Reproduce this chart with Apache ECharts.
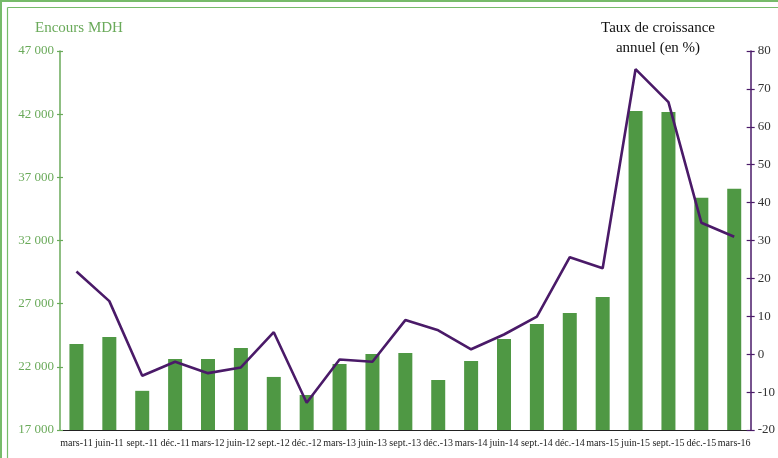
<!DOCTYPE html>
<html>
<head>
<meta charset="utf-8">
<script src="https://cdn.jsdelivr.net/npm/echarts@6/dist/echarts.min.js"></script>
<style>
  html, body { margin: 0; padding: 0; background: #fff; }
  #chart { width: 778px; height: 458px; }
</style>
</head>
<body>
<div id="chart"></div>
<script>
// trimestres
var categories = ["mars-11", "juin-11", "sept.-11", "déc.-11", "mars-12", "juin-12", "sept.-12", "déc.-12",
	"mars-13", "juin-13", "sept.-13", "déc.-13", "mars-14", "juin-14", "sept.-14", "déc.-14",
	"mars-15", "juin-15", "sept.-15", "déc.-15", "mars-16"];

// encours en MDH (barres)
var encours = [23800, 24360, 20100, 22620, 22620, 23490, 21200, 19770,
	22230, 23020, 23100, 20960, 22460, 24200, 25390, 26260,
	27530, 42260, 42180, 35390, 36100];

// taux de croissance annuel en % (courbe)
var croissance = [21.8, 14.0, -5.7, -2.0, -5.0, -3.5, 5.8, -12.8,
	-1.4, -2.0, 9.0, 6.3, 1.3, 5.2, 9.9, 25.6,
	22.7, 75.2, 66.5, 34.7, 31.0];

var green = "#4f9844";
var greenAxis = "#6aaa5a";
var purple = "#4a1a68";
var serif = "'Liberation Serif', 'DejaVu Serif', serif";

var chart = echarts.init(document.getElementById("chart"));

function milliers(v) {
	var s = String(v);
	return s.replace(/\B(?=(\d{3})+(?!\d))/g, " ");
}

var grid = { left: 60, right: 27, top: 51, bottom: 28 };

var option = {
	animation: false,
	backgroundColor: "#fff",
	grid: grid,
	graphic: [
		// cadre vert
		{ type: "line", shape: { x1: 1, y1: 0, x2: 1, y2: 458 }, style: { stroke: "#76bb6a", lineWidth: 2 } },
		{ type: "line", shape: { x1: 0, y1: 1, x2: 778, y2: 1 }, style: { stroke: "#76bb6a", lineWidth: 2 } },
		{ type: "line", shape: { x1: 7.5, y1: 7.5, x2: 7.5, y2: 458 }, style: { stroke: "#76bb6a", lineWidth: 1.2 } },
		{ type: "line", shape: { x1: 7.5, y1: 7.5, x2: 778, y2: 7.5 }, style: { stroke: "#76bb6a", lineWidth: 1.2 } },
		{
			type: "text", x: 35, y: 28,
			style: { text: "Encours MDH", font: "15px " + serif, fill: greenAxis, align: "left", verticalAlign: "middle" }
		},
		{
			type: "text", x: 658, y: 28,
			style: { text: "Taux de croissance", font: "15px " + serif, fill: "#111", align: "center", verticalAlign: "middle" }
		},
		{
			type: "text", x: 658, y: 48,
			style: { text: "annuel (en %)", font: "15px " + serif, fill: "#111", align: "center", verticalAlign: "middle" }
		}
	],
	xAxis: [{
		type: "category",
		data: categories,
		boundaryGap: true,
		axisLine: { onZero: false, lineStyle: { color: "#222", width: 1.2 } },
		axisTick: { length: 3, lineStyle: { color: "#222", width: 1.2 } },
		axisLabel: { interval: 0, margin: 8, fontFamily: serif, fontSize: 10, color: "#222" },
		splitLine: { show: false }
	}, {
		// ticks vers le haut
		type: "category",
		data: categories,
		position: "bottom",
		boundaryGap: true,
		axisLine: { show: false, onZero: false },
		axisTick: { inside: true, length: 3, lineStyle: { color: "#222", width: 1.2 } },
		axisLabel: { show: false },
		splitLine: { show: false }
	}],
	yAxis: [{
		type: "value",
		min: 17000, max: 47000, interval: 5000,
		position: "left",
		axisLine: { show: true, lineStyle: { color: greenAxis, width: 1.5 } },
		axisTick: { show: true, length: 3, lineStyle: { color: greenAxis, width: 1.2 } },
		axisLabel: { margin: 6, fontFamily: serif, fontSize: 13, color: greenAxis, formatter: milliers },
		splitLine: { show: false }
	}, {
		type: "value",
		min: -20, max: 80, interval: 10,
		position: "right",
		axisLine: { show: true, lineStyle: { color: purple, width: 1.5 } },
		axisTick: { show: true, length: 4, lineStyle: { color: purple, width: 1.2 } },
		axisLabel: { margin: 7, fontFamily: serif, fontSize: 13, color: "#333" },
		splitLine: { show: false }
	}, {
		// ticks interieurs gauche
		type: "value",
		min: 17000, max: 47000, interval: 5000,
		position: "left",
		axisLine: { show: false },
		axisTick: { show: true, inside: true, length: 3, lineStyle: { color: greenAxis, width: 1.2 } },
		axisLabel: { show: false },
		splitLine: { show: false }
	}, {
		// ticks interieurs droite
		type: "value",
		min: -20, max: 80, interval: 10,
		position: "right",
		axisLine: { show: false },
		axisTick: { show: true, inside: true, length: 4, lineStyle: { color: purple, width: 1.2 } },
		axisLabel: { show: false },
		splitLine: { show: false }
	}],
	series: [{
		name: "Encours MDH",
		type: "bar",
		data: encours,
		barWidth: 14,
		itemStyle: { color: green },
		yAxisIndex: 0
	}, {
		name: "Taux de croissance annuel",
		type: "line",
		data: croissance,
		yAxisIndex: 1,
		symbol: "none",
		lineStyle: { color: purple, width: 2.6 },
		z: 5
	}]
};

chart.setOption(option);
</script>
</body>
</html>
